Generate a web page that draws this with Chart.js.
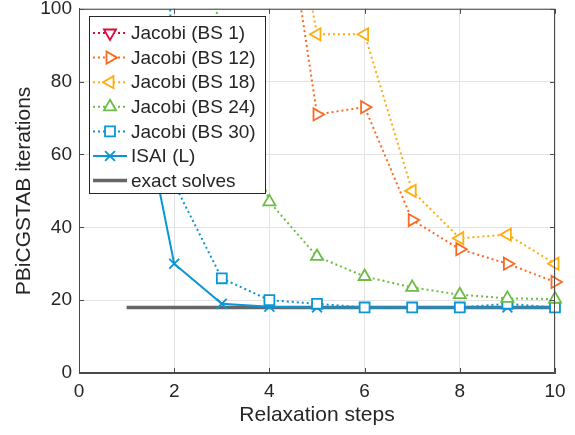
<!DOCTYPE html>
<html>
<head>
<meta charset="utf-8">
<script src="https://cdn.jsdelivr.net/npm/chart.js@4.4.1/dist/chart.umd.min.js"></script>
<style>
  html, body { margin: 0; padding: 0; background: #fff; }
  canvas { display: block; }
</style>
</head>
<body>
<canvas id="chart" width="575" height="435"></canvas>
<script>
// values (points above 100 are off-chart estimates)
const steps = [1, 2, 3, 4, 5, 6, 7, 8, 9, 10];
const jacobiBs1 = [950, 800, 650, 520, 430, 360, 300, 250, 215, 185];
const jacobiBs12 = [700, 450, 260, 158, 71, 73, 42, 34, 30, 25];
const jacobiBs18 = [800, 520, 300, 165, 93, 93, 50, 37, 38, 30];
const jacobiBs24 = [400, 184, 89, 47, 32, 26.5, 23.5, 21.5, 20.5, 20.3];
const jacobiBs30 = [620, 52, 26, 20, 19, 18, 18, 18, 19, 18];
const isai = [95, 30, 19, 18.2, 18, 18, 18, 18, 18, 18];
const exactSolves = [18, 18, 18, 18, 18, 18, 18, 18, 18, 18];

const xTicks = [0, 2, 4, 6, 8, 10];
const yTicks = [0, 20, 40, 60, 80, 100];

const FONT = "'Liberation Sans', Arial, Helvetica, sans-serif";
const INK = "#262626";

function pts(vals) {
  return steps.map((s, i) => ({ x: s, y: vals[i] }));
}

function series(label, vals, color, style, rotation, dotted) {
  return {
    label: label,
    data: pts(vals),
    borderColor: color,
    borderWidth: 2,
    borderDash: dotted ? [2, 3] : [],
    pointStyle: style,
    rotation: rotation,
    pointRadius: 7,
    pointBorderWidth: 1.8,
    pointBorderColor: color,
    pointBackgroundColor: "#fff",
    clip: { left: 12, right: 12, top: 0, bottom: 12 },
  };
}

const datasets = [
  series("Jacobi (BS 1)", jacobiBs1, "#e2063c", "triangle", 180, true),
  series("Jacobi (BS 12)", jacobiBs12, "#fb6a22", "triangle", 90, true),
  series("Jacobi (BS 18)", jacobiBs18, "#ffac0f", "triangle", -90, true),
  series("Jacobi (BS 24)", jacobiBs24, "#6cbd45", "triangle", 0, true),
  series("Jacobi (BS 30)", jacobiBs30, "#0a96d4", "rect", 0, true),
  series("ISAI (L)", isai, "#0a96d4", "crossRot", 0, false),
  {
    label: "exact solves",
    data: pts(exactSolves),
    borderColor: "#666666",
    borderWidth: 3.5,
    pointRadius: 0,
    order: 10,
  },
];

// box around the axes with inward ticks (matlab look)
const boxPlugin = {
  id: "box",
  afterDatasetsDraw(chart) {
    const { ctx, chartArea: a, scales } = chart;
    ctx.save();
    ctx.strokeStyle = "#4a4a4a";
    ctx.lineWidth = 1;
    ctx.beginPath();
    ctx.rect(a.left + 0.5, a.top + 0.5, a.right - a.left - 1, a.bottom - a.top - 1);
    xTicks.forEach((t) => {
      const px = Math.round(scales.x.getPixelForValue(t)) + 0.5;
      ctx.moveTo(px, a.bottom);
      ctx.lineTo(px, a.bottom - 5);
      ctx.moveTo(px, a.top);
      ctx.lineTo(px, a.top + 5);
    });
    yTicks.forEach((t) => {
      const py = Math.round(scales.y.getPixelForValue(t)) + 0.5;
      ctx.moveTo(a.left, py);
      ctx.lineTo(a.left + 5, py);
      ctx.moveTo(a.right, py);
      ctx.lineTo(a.right - 5, py);
    });
    ctx.stroke();
    ctx.restore();
  },
};

// legend box drawn inside the plot, top left
const legendPlugin = {
  id: "boxLegend",
  afterDraw(chart) {
    const ctx = chart.ctx;
    const x0 = 89, y0 = 16, w = 176, h = 177;
    const rowH = 24.6;
    ctx.save();
    ctx.fillStyle = "#fff";
    ctx.fillRect(x0, y0, w, h);
    ctx.strokeStyle = INK;
    ctx.lineWidth = 1;
    ctx.strokeRect(x0 + 0.5, y0 + 0.5, w, h);
    ctx.font = "19px " + FONT;
    ctx.textBaseline = "middle";
    chart.data.datasets.forEach((ds, i) => {
      const cy = y0 + 17 + i * rowH;
      ctx.strokeStyle = ds.borderColor;
      ctx.lineWidth = ds.borderWidth;
      ctx.setLineDash(ds.borderDash || []);
      ctx.beginPath();
      ctx.moveTo(x0 + 4, cy);
      ctx.lineTo(x0 + 38, cy);
      ctx.stroke();
      ctx.setLineDash([]);
      if (ds.pointRadius > 0) {
        ctx.strokeStyle = ds.pointBorderColor;
        ctx.fillStyle = ds.pointBackgroundColor;
        ctx.lineWidth = ds.pointBorderWidth;
        Chart.helpers.drawPoint(ctx, {
          pointStyle: ds.pointStyle,
          rotation: ds.rotation,
          radius: ds.pointRadius,
          borderWidth: ds.pointBorderWidth,
        }, x0 + 21, cy);
      }
      ctx.fillStyle = INK;
      ctx.fillText(ds.label, x0 + 42, cy + 1);
    });
    ctx.restore();
  },
};

new Chart(document.getElementById("chart"), {
  type: "line",
  data: { datasets: datasets },
  plugins: [boxPlugin, legendPlugin],
  options: {
    responsive: false,
    animation: false,
    devicePixelRatio: 1,
    layout: { padding: { top: 6, right: 20, left: 0, bottom: 0 } },
    plugins: {
      legend: { display: false },
      tooltip: { enabled: false },
    },
    scales: {
      x: {
        type: "linear",
        min: 0,
        max: 10,
        afterBuildTicks: (s) => { s.ticks = xTicks.map((v) => ({ value: v })); },
        afterFit: (s) => { s.height = 62; s.paddingLeft = 0; s.paddingRight = 0; },
        ticks: { font: { family: FONT, size: 19 }, color: INK, padding: 7, maxRotation: 0 },
        grid: { color: "#e3e3e3", drawTicks: false },
        border: { color: "#4a4a4a" },
        title: {
          display: true,
          text: "Relaxation steps",
          font: { family: FONT, size: 21 },
          color: INK,
          padding: { top: 0, bottom: 7 },
        },
      },
      y: {
        min: 0,
        max: 100,
        afterBuildTicks: (s) => { s.ticks = yTicks.map((v) => ({ value: v })); },
        afterFit: (s) => { s.width = 79; s.paddingTop = 0; s.paddingBottom = 0; },
        ticks: { font: { family: FONT, size: 19 }, color: INK, padding: 7 },
        grid: { color: "#e3e3e3", drawTicks: false },
        border: { color: "#4a4a4a" },
        title: {
          display: true,
          text: "PBiCGSTAB iterations",
          font: { family: FONT, size: 21 },
          color: INK,
          padding: { top: 12, bottom: 0 },
        },
      },
    },
  },
});
</script>
</body>
</html>
